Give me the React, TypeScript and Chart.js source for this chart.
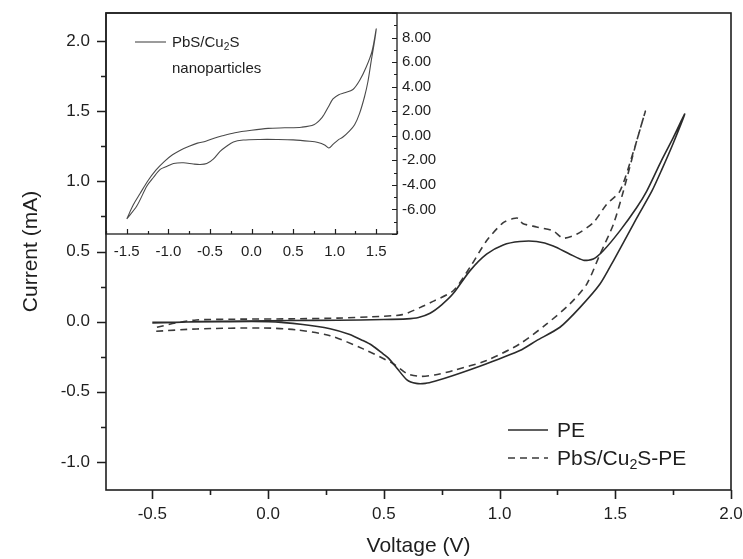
import React, { useEffect, useRef } from "react";
import { Chart, registerables } from "chart.js";
Chart.register(...registerables);

// ---------- main chart data ----------
const peVoltage = [
  -0.5, -0.4, -0.3, -0.1, 0.1, 0.3, 0.5, 0.6, 0.65, 0.7, 0.75, 0.8, 0.872, 0.944, 1.016, 1.088, 1.16, 1.232,
  1.304, 1.362, 1.405, 1.448, 1.52, 1.592, 1.636, 1.7, 1.75, 1.8,
  1.75, 1.7, 1.658, 1.6, 1.578, 1.492, 1.434, 1.348, 1.261, 1.16, 1.088, 0.944, 0.8, 0.72, 0.68, 0.64, 0.6,
  0.556, 0.52, 0.497, 0.45, 0.41, 0.35, 0.268, 0.15, 0.0, -0.2, -0.5,
];
const peCurrent = [
  -0.01, -0.005, 0.0, 0.005, 0.008, 0.01, 0.015, 0.02, 0.03, 0.06, 0.12, 0.2, 0.362, 0.481, 0.547, 0.571, 0.571, 0.54,
  0.481, 0.438, 0.446, 0.505, 0.647, 0.812, 0.931, 1.15, 1.31, 1.48,
  1.27, 1.08, 0.93, 0.76, 0.694, 0.434, 0.268, 0.102, -0.04, -0.135, -0.206, -0.3, -0.384, -0.425, -0.44, -0.44, -0.415,
  -0.33, -0.26, -0.23, -0.17, -0.135, -0.09, -0.05, -0.02, 0.0, 0.0, -0.005,
];
const pbsVoltage = [
  -0.48, -0.4, -0.31, -0.1, 0.1, 0.3, 0.45, 0.58, 0.656, 0.72, 0.8, 0.872, 0.944, 1.016, 1.06, 1.081, 1.1, 1.16,
  1.232, 1.275, 1.333, 1.405, 1.463, 1.52, 1.58, 1.63,
  1.593, 1.535, 1.492, 1.434, 1.377, 1.304, 1.204, 1.088, 0.944, 0.8, 0.72, 0.656, 0.6, 0.541, 0.411, 0.268, 0.124,
  -0.02, -0.308, -0.484,
];
const pbsCurrent = [
  -0.04, -0.01, 0.012, 0.018, 0.02, 0.025, 0.035, 0.05, 0.1, 0.15, 0.22, 0.386, 0.576, 0.706, 0.735, 0.737, 0.7, 0.675,
  0.647, 0.595, 0.623, 0.706, 0.837, 0.93, 1.22, 1.5,
  1.29, 0.93, 0.694, 0.48, 0.268, 0.126, -0.016, -0.158, -0.277, -0.348, -0.38, -0.39, -0.37, -0.3, -0.194, -0.1, -0.059,
  -0.045, -0.052, -0.069,
];
const mainXTicks = [-0.5, 0, 0.5, 1, 1.5, 2];
const mainYTicks = [-1, -0.5, 0, 0.5, 1, 1.5, 2];

// ---------- inset data ----------
const insetVoltage = [
  -1.5, -1.42, -1.34, -1.25, -1.15, -1.05, -0.95, -0.85, -0.75, -0.65, -0.55, -0.45, -0.35, -0.2, 0.0, 0.2, 0.4, 0.6,
  0.75, 0.85, 0.92, 0.98, 1.05, 1.12, 1.22, 1.3, 1.38, 1.45, 1.5,
  1.48, 1.44, 1.4, 1.36, 1.3, 1.24, 1.18, 1.1, 1.04, 0.98, 0.93, 0.88, 0.8, 0.7, 0.5, 0.3, 0.1, -0.1, -0.218, -0.3,
  -0.378, -0.46, -0.538, -0.618, -0.7, -0.818, -0.938, -1.02, -1.098, -1.18, -1.258, -1.378, -1.5,
];
const insetCurrent = [
  -6.77, -5.6, -4.7, -3.7, -2.8, -2.1, -1.55, -1.15, -0.85, -0.6, -0.45, -0.2, 0.0, 0.25, 0.45, 0.6, 0.65, 0.7,
  0.9, 1.5, 2.3, 3.0, 3.35, 3.5, 3.77, 4.5, 5.6, 6.9, 8.7,
  7.7, 6.1, 4.4, 3.2, 1.83, 0.9, 0.4, -0.1, -0.35, -0.7, -1.0, -0.75, -0.55, -0.45, -0.33, -0.3, -0.3, -0.35, -0.5,
  -0.85, -1.27, -1.9, -2.26, -2.34, -2.3, -2.2, -2.26, -2.5, -2.74, -3.4, -4.09, -5.7, -6.77,
];
const insetXTicks = [-1.5, -1, -0.5, 0, 0.5, 1, 1.5];
const insetYTicks = [-6, -4, -2, 0, 2, 4, 6, 8];

const FONT = "'Liberation Sans', Arial, Helvetica, sans-serif";
const INK = "#1e1e1e";

function zip(xs: number[], ys: number[]) {
  return xs.map((x, i) => ({ x, y: ys[i] }));
}

type FrameOpts = {
  id: string;
  xMinorStep: number;
  xMajorStep: number;
  yMinorStep: number;
  yMajorStep: number;
  inward: boolean;
  yRight: boolean;
  major: number;
  minor: number;
  frame: number;
  tickW: number;
};

function framePlugin(o: FrameOpts) {
  return {
    id: o.id,
    afterDraw(chart: any) {
      const { ctx, chartArea: a, scales } = chart;
      const xs = scales.x;
      const ys = scales.y;
      ctx.save();
      ctx.strokeStyle = INK;
      ctx.lineWidth = o.frame;
      ctx.strokeRect(a.left, a.top, a.right - a.left, a.bottom - a.top);
      ctx.lineWidth = o.tickW;
      ctx.beginPath();
      const isMajor = (v: number, s: number) => Math.abs(v / s - Math.round(v / s)) < 1e-6;
      for (let v = Math.ceil(xs.min / o.xMinorStep - 1e-9) * o.xMinorStep; v <= xs.max + 1e-9; v += o.xMinorStep) {
        const p = Math.round(xs.getPixelForValue(v)) + 0.5;
        const len = isMajor(v, o.xMajorStep) ? o.major : o.minor;
        const dir = o.inward ? -1 : 1;
        ctx.moveTo(p, a.bottom);
        ctx.lineTo(p, a.bottom + dir * len);
      }
      for (let v = Math.ceil(ys.min / o.yMinorStep - 1e-9) * o.yMinorStep; v <= ys.max + 1e-9; v += o.yMinorStep) {
        const p = Math.round(ys.getPixelForValue(v)) + 0.5;
        const len = isMajor(v, o.yMajorStep) ? o.major : o.minor;
        const edge = o.yRight ? a.right : a.left;
        let dir = o.yRight ? 1 : -1;
        if (o.inward) dir = -dir;
        ctx.moveTo(edge, p);
        ctx.lineTo(edge + dir * len, p);
      }
      ctx.stroke();
      ctx.restore();
    },
  };
}

function fixX(height: number) {
  return (s: any) => {
    s.height = height;
    s.paddingLeft = 0;
    s.paddingRight = 0;
    s.paddingTop = 0;
    s.paddingBottom = 0;
  };
}
function fixY(width: number) {
  return (s: any) => {
    s.width = width;
    s.paddingLeft = 0;
    s.paddingRight = 0;
    s.paddingTop = 0;
    s.paddingBottom = 0;
  };
}

function MainChart() {
  const ref = useRef<HTMLCanvasElement>(null);
  useEffect(() => {
    const chart = new Chart(ref.current!, {
      type: "scatter",
      data: {
        datasets: [
          {
            label: "PE",
            data: zip(peVoltage, peCurrent),
            showLine: true,
            borderColor: "#2b2b2b",
            borderWidth: 1.6,
            pointRadius: 0,
            tension: 0.25,
          },
          {
            label: "PbS/Cu2S-PE",
            data: zip(pbsVoltage, pbsCurrent),
            showLine: true,
            borderColor: "#3a3a3a",
            borderWidth: 1.6,
            borderDash: [7, 5],
            pointRadius: 0,
            tension: 0.25,
          },
        ],
      },
      options: {
        animation: false,
        responsive: false,
        devicePixelRatio: 1,
        layout: { padding: { top: 13, right: 12, left: 0, bottom: 0 } },
        plugins: { legend: { display: false }, tooltip: { enabled: false } },
        scales: {
          x: {
            type: "linear",
            min: -0.7,
            max: 2.0,
            afterFit: fixX(69),
            afterBuildTicks: (s: any) => {
              s.ticks = mainXTicks.map((v) => ({ value: v }));
            },
            grid: { display: false, drawTicks: false },
            border: { display: false },
            ticks: {
              autoSkip: false,
              maxRotation: 0,
              padding: 14,
              color: INK,
              font: { family: FONT, size: 17 },
              callback: (v: any) => Number(v).toFixed(1),
            },
            title: {
              display: true,
              text: "Voltage (V)",
              color: INK,
              font: { family: FONT, size: 21 },
              padding: { top: 0, bottom: 0 },
            },
          },
          y: {
            type: "linear",
            min: -1.2,
            max: 2.2,
            afterFit: fixY(106),
            afterBuildTicks: (s: any) => {
              s.ticks = mainYTicks.map((v) => ({ value: v }));
            },
            grid: { display: false, drawTicks: false },
            border: { display: false },
            ticks: {
              autoSkip: false,
              padding: 16,
              color: INK,
              font: { family: FONT, size: 17 },
              callback: (v: any) => Number(v).toFixed(1),
            },
            title: {
              display: true,
              text: "Current (mA)",
              color: INK,
              font: { family: FONT, size: 21 },
              padding: { top: 19, bottom: 0 },
            },
          },
        },
      },
      plugins: [
        framePlugin({
          id: "mainFrame",
          xMinorStep: 0.25,
          xMajorStep: 0.5,
          yMinorStep: 0.25,
          yMajorStep: 0.5,
          inward: false,
          yRight: false,
          major: 9,
          minor: 5,
          frame: 1.6,
          tickW: 1.6,
        }),
      ],
    } as any);
    return () => chart.destroy();
  }, []);
  return <canvas ref={ref} width={743} height={559} style={{ position: "absolute", left: 0, top: 0 }} />;
}

function InsetChart() {
  const ref = useRef<HTMLCanvasElement>(null);
  useEffect(() => {
    const chart = new Chart(ref.current!, {
      type: "scatter",
      data: {
        datasets: [
          {
            label: "PbS/Cu2S nanoparticles",
            data: zip(insetVoltage, insetCurrent),
            showLine: true,
            borderColor: "#4a4a4a",
            borderWidth: 1.1,
            pointRadius: 0,
            tension: 0.3,
          },
        ],
      },
      options: {
        animation: false,
        responsive: false,
        devicePixelRatio: 1,
        layout: { padding: { top: 13, right: 0, left: 106, bottom: 0 } },
        plugins: { legend: { display: false }, tooltip: { enabled: false } },
        scales: {
          x: {
            type: "linear",
            min: -1.75,
            max: 1.75,
            afterFit: fixX(36),
            afterBuildTicks: (s: any) => {
              s.ticks = insetXTicks.map((v) => ({ value: v }));
            },
            grid: { display: false, drawTicks: false },
            border: { display: false },
            ticks: {
              autoSkip: false,
              maxRotation: 0,
              padding: 9,
              color: INK,
              font: { family: FONT, size: 15 },
              callback: (v: any) => Number(v).toFixed(1),
            },
          },
          y: {
            type: "linear",
            position: "right",
            min: -8,
            max: 10,
            afterFit: fixY(63),
            afterBuildTicks: (s: any) => {
              s.ticks = insetYTicks.map((v) => ({ value: v }));
            },
            grid: { display: false, drawTicks: false },
            border: { display: false },
            ticks: {
              autoSkip: false,
              padding: 5,
              color: INK,
              font: { family: FONT, size: 15 },
              callback: (v: any) => Number(v).toFixed(2),
            },
          },
        },
      },
      plugins: [
        framePlugin({
          id: "insetFrame",
          xMinorStep: 0.25,
          xMajorStep: 0.5,
          yMinorStep: 1,
          yMajorStep: 2,
          inward: true,
          yRight: true,
          major: 5,
          minor: 3,
          frame: 1.3,
          tickW: 1.2,
        }),
      ],
    } as any);
    return () => chart.destroy();
  }, []);
  return <canvas ref={ref} width={460} height={270} style={{ position: "absolute", left: 0, top: 0 }} />;
}

const sub = { fontSize: "0.68em", verticalAlign: "-0.3em", lineHeight: 0 } as const;

export default function App() {
  useEffect(() => {
    document.body.style.margin = "0";
  }, []);
  const txt = { position: "absolute", fontFamily: FONT, color: INK, whiteSpace: "nowrap" } as const;
  return (
    <div style={{ position: "absolute", left: 0, top: 0, width: 743, height: 559, background: "#fff", overflow: "hidden" }}>
      <MainChart />
      <InsetChart />
      <svg width={743} height={559} style={{ position: "absolute", left: 0, top: 0, pointerEvents: "none" }}>
        <line x1={135} y1={42} x2={166} y2={42} stroke="#4a4a4a" strokeWidth={1.1} />
        <line x1={508} y1={430} x2={548} y2={430} stroke="#2b2b2b" strokeWidth={1.6} />
        <line x1={508} y1={458} x2={548} y2={458} stroke="#3a3a3a" strokeWidth={1.6} strokeDasharray="7 5" />
      </svg>
      <div style={{ ...txt, left: 172, top: 33, fontSize: 15, lineHeight: "18px" }}>
        PbS/Cu<sub style={sub}>2</sub>S
      </div>
      <div style={{ ...txt, left: 172, top: 59, fontSize: 15, lineHeight: "18px" }}>nanoparticles</div>
      <div style={{ ...txt, left: 557, top: 417, fontSize: 21, lineHeight: "26px" }}>PE</div>
      <div style={{ ...txt, left: 557, top: 445, fontSize: 21, lineHeight: "26px" }}>
        PbS/Cu<sub style={sub}>2</sub>S-PE
      </div>
    </div>
  );
}
